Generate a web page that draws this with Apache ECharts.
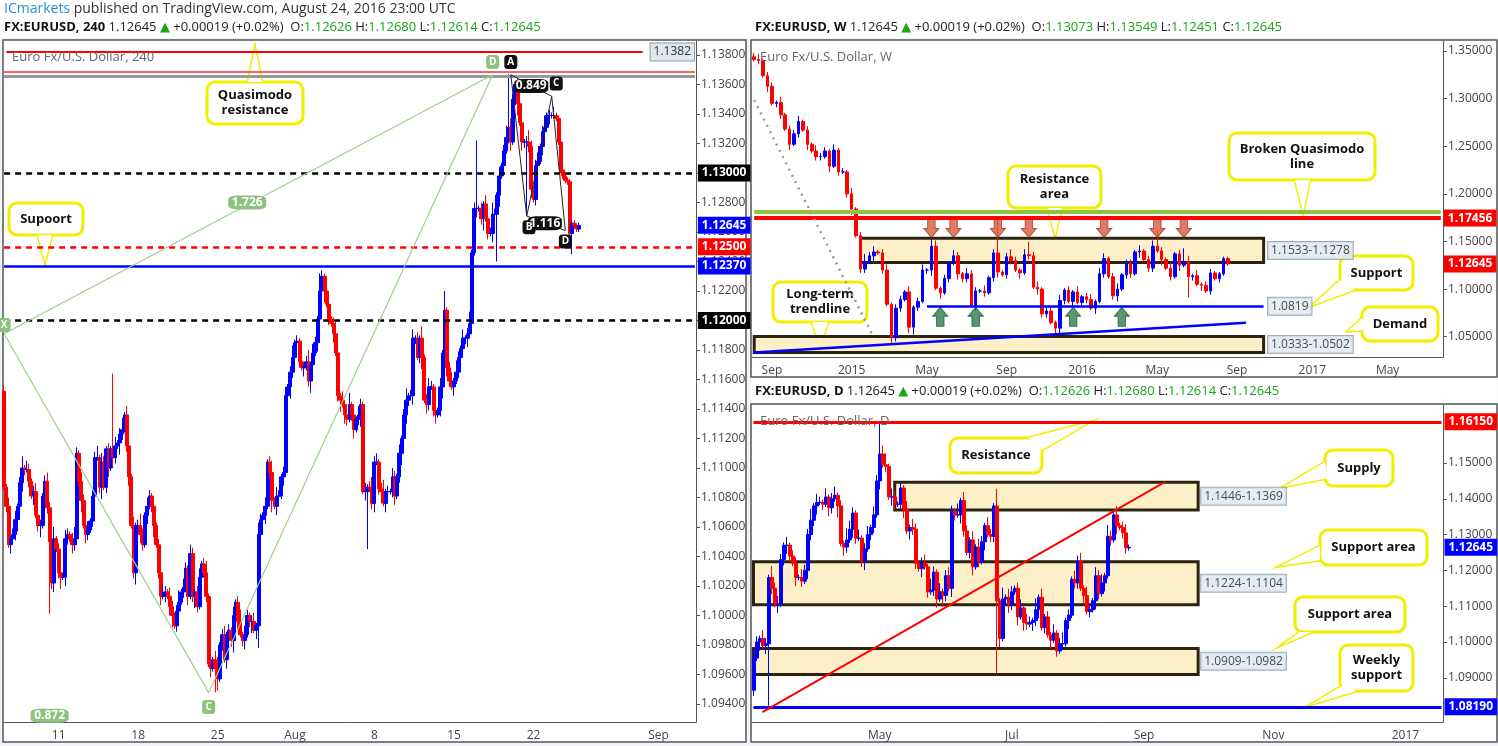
<!DOCTYPE html>
<html>
<head>
<meta charset="utf-8">
<script src="https://cdn.jsdelivr.net/npm/echarts@6/dist/echarts.min.js"></script>
<style>
  html, body { margin: 0; padding: 0; background: #f1f3f6; }
  #chart { width: 1498px; height: 746px; }
</style>
</head>
<body>
<div id="chart"></div>
<script>
// ---------- 4H data (pips above 1.1000) ----------
const h4Open0 = 152;
const h4Close = [87,74,48,52,55,65,74,90,100,99,99,91,81,84,68,61,61,81,91,73,50,22,52,45,29,26,26,52,55,52,
  48,52,110,91,78,61,55,58,64,81,107,107,87,104,87,113,100,113,107,115,117,123,126,136,115,94,61,29,61,61,
  55,48,68,74,81,74,61,48,29,13,13,16,13,6,0,-7,3,9,16,19,32,13,42,13,16,6,26,35,29,13,
  -33,-36,-30,-36,-43,-20,-13,-30,-13,-10,-17,0,9,-4,-13,-17,-13,0,-4,-4,-10,-7,55,65,68,74,104,97,78,74,
  81,81,94,97,149,155,165,175,185,186,172,168,168,172,159,170,178,185,201,220,230,220,211,201,198,191,178,149,146,143,
  136,133,143,136,126,133,136,143,84,84,87,86,76,104,104,86,84,76,84,84,84,94,81,94,110,120,136,146,149,149,
  188,188,175,188,175,146,143,155,155,139,136,139,155,178,207,168,159,155,159,165,175,181,188,188,191,198,246,276,276,276,
  269,279,269,259,259,272,272,285,298,305,315,324,331,321,350,360,347,334,321,321,321,318,289,282,305,308,318,328,331,339,
  339,339,339,337,321,302,298,295,294,259,266,264,262,264.5];
const h4WickUp = '2131231241321231212321412313212421321312241321212312413213124213213121421321241321321231241213412312131241321231421312413212312412131241321321431242131241213213124231241213213124123121412321413121231421312412312131242131241321213124212312412131';
const h4WickDn = '1213124132121312413212312413213212413212312412313214212312413213124123121341231213124213121312412131241312312413212312413213124213213124213124121312413212312413212312413212312413213212413212312413213124123121312412131241312312413212312413213';
const h4SpikeHigh = [[48, 164], [139, 232], [194, 220], [208, 322], [222, 367]];
const h4SpikeLow = [[20, 1], [93, -52], [112, -22], [160, 45], [217, 240], [230, 271], [250, 245]];
const h4Ticks = [[24, '11'], [59, '18'], [94, '25'], [128, 'Aug'], [163, '8'], [198, '15'], [233, '22'], [288, 'Sep']];
const h4Count = 305;
const h4PriceTicks = [1.094,1.096,1.098,1.100,1.102,1.104,1.106,1.108,1.110,1.112,1.114,1.116,1.118,1.120,1.122,1.124,1.126,1.128,1.130,1.132,1.134,1.136,1.138];

// ---------- Weekly data ----------
const wStart = '2014-08-04';
const wOpen0 = 1.3440;
const wClose = [1.3410,1.3400,1.3240,1.3130,
  1.2950,1.2960,1.2830,1.2680,1.2520, 1.2630,1.2760,1.2670,1.2520, 1.2450,1.2390,1.2390,1.2450,
  1.2290,1.2460,1.2230,1.2230,1.2000, 1.1840,1.1560,1.1210,1.1290, 1.1350,1.1390,1.1380,1.1200,
  1.0840,1.0490,1.0800,1.0890,1.0970, 1.0600,1.0810,1.0870,1.1200, 1.1200,1.1450,1.1010,1.0960,
  1.1110,1.1270,1.1350,1.1160,1.1110, 1.1160,1.0830,1.0980,1.0980, 1.0960,1.1120,1.1380,1.1180,1.1150,
  1.1340,1.1300,1.1200,1.1170, 1.1360,1.1350,1.1020,1.1000, 1.0740,1.0770,1.0650,1.0590,1.0880,
  1.0990,1.0870,1.0970,1.0860, 1.0920,1.0890,1.0800,1.0870, 1.1160,1.1320,1.1130,1.0930,1.1000,
  1.1150,1.1270,1.1160,1.1390, 1.1400,1.1310,1.1220,1.1450, 1.1400,1.1310,1.1220,1.1130,1.1370,
  1.1250,1.1290,1.1130,1.1140, 1.1050,1.1040,1.0980,1.1170, 1.1110,1.1160,1.1320,1.12645];
const wWickUp = '2312213122312132213121312423123122131231431213213221312312421312312213121312313212312213123121312231312211';
const wWickDn = '1213122131213122131212312213121322131212313121322131212312213121322131213122131212312213122131213122131212';
const wSpikeHigh = [[40, 1.1466], [55, 1.1714], [62, 1.1495], [79, 1.1376], [91, 1.1616], [97, 1.1428]];
const wSpikeLow = [[31, 1.0462], [69, 1.0524], [36, 1.0521], [98, 1.0912]];
const wCount = 156;
const wPriceTicks = [1.05, 1.10, 1.15, 1.20, 1.25, 1.30, 1.35];
const wResArrows = [[40, 1.1643], [45, 1.1643], [55, 1.1643], [62, 1.1643], [79, 1.1643], [91, 1.1643], [97, 1.1643]];
const wSupArrows = [[42, 1.0709], [50, 1.0709], [72, 1.0709], [83, 1.0709]];

// ---------- Daily data ----------
const dStart = '2016-03-03';
const dOpen0 = 1.0865;
const dClose = [1.0955,1.1000,1.1010,1.0990,1.0995,1.1180,1.1150,1.1105,1.1105,1.1230,1.1270,1.1270,1.1240,1.1220,1.1180,1.1180,1.1170,1.1200,1.1300,1.1340,1.1380,
  1.1390,1.1390,1.1385,1.1405,1.1375,1.1400,1.1410,1.1380,1.1275,1.1265,1.1285,1.1315,1.1360,1.1290,1.1290,1.1225,1.1260,1.1300,1.1320,1.1355,1.1450,
  1.1525,1.1495,1.1490,1.1405,1.1405,1.1385,1.1385,1.1430,1.1370,1.1310,1.1320,1.1315,1.1220,1.1205,1.1220,1.1210,1.1140,1.1145,1.1195,1.1120,1.1140,1.1130,
  1.1185,1.1150,1.1365,1.1355,1.1355,1.1395,1.1310,1.1250,1.1285,1.1210,1.1265,1.1225,1.1280,1.1325,1.1300,1.1295,1.1380,1.1115,1.1010,1.1120,1.1125,1.1105,
  1.1140,1.1150,1.1070,1.1095,1.1055,1.1050,1.1055,1.1060,1.1090,1.1125,1.1040,1.1070,1.1020,1.1005,1.1025,1.0975,1.0995,1.0995,1.1060,1.1075,1.1175,
  1.1165,1.1225,1.1150,1.1130,1.1085,1.1090,1.1115,1.1185,1.1135,1.1165,1.1185,1.1295,1.1285,1.1355,1.1325,1.1320,1.1305,1.1263,1.12645];
const dWickUp = '3213214232131221322413213123121432131231321341321213132123142131232141321313213213141321231321413121312412132313213231421312313122';
const dWickDn = '2131322131232131213223121321413213212312213121321231322131212314213213212312131221312321313213231213121213122131213213121312212131';
const dSpikeHigh = [[42, 1.1616], [81, 1.1428]];
const dSpikeLow = [[5, 1.0822], [81, 1.0912]];
const dCount = 230;
const dPriceTicks = [1.09, 1.10, 1.11, 1.12, 1.13, 1.14, 1.15];

// ---------- helpers ----------
function buildCandles(closes, open0, wu, wd, unit, hiSpikes, loSpikes, conv) {
  const out = [];
  let prev = open0;
  closes.forEach((c, i) => {
    const o = prev;
    let h = Math.max(o, c) + Number(wu[i] || 1) * unit;
    let l = Math.min(o, c) - Number(wd[i] || 1) * unit;
    hiSpikes.forEach(s => { if (s[0] === i) h = Math.max(h, s[1]); });
    loSpikes.forEach(s => { if (s[0] === i) l = Math.min(l, s[1]); });
    out.push([conv(o), conv(c), conv(l), conv(h)]);
    prev = c;
  });
  return out;
}
const pip = p => +(1.1 + p / 10000).toFixed(5);
const same = v => v;

const h4Data = buildCandles(h4Close, h4Open0, h4WickUp, h4WickDn, 2, h4SpikeHigh, h4SpikeLow, pip);
const wData = buildCandles(wClose, wOpen0, wWickUp, wWickDn, 0.0020, wSpikeHigh, wSpikeLow, same);
const dData = buildCandles(dClose, dOpen0, dWickUp, dWickDn, 0.0008, dSpikeHigh, dSpikeLow, same);

const h4Cats = Array.from({ length: h4Count }, (_, i) => String(i));
const h4TickMap = {};
h4Ticks.forEach(t => { h4TickMap[t[0]] = t[1]; });

function weekDates(start, n) {
  const d = new Date(start + 'T00:00:00Z'), out = [];
  for (let i = 0; i < n; i++) { out.push(d.toISOString().slice(0, 10)); d.setUTCDate(d.getUTCDate() + 7); }
  return out;
}
function tradingDates(start, n) {
  const d = new Date(start + 'T00:00:00Z'), out = [];
  while (out.length < n) {
    const wd = d.getUTCDay();
    if (wd !== 0 && wd !== 6) out.push(d.toISOString().slice(0, 10));
    d.setUTCDate(d.getUTCDate() + 1);
  }
  return out;
}
const wCats = weekDates(wStart, wCount);
const dCats = tradingDates(dStart, dCount);
const MON = ['Jan','Feb','Mar','Apr','May','Jun','Jul','Aug','Sep','Oct','Nov','Dec'];

function firstOfMonth(cats, i) {
  return i === 0 ? false : cats[i].slice(5, 7) !== cats[i - 1].slice(5, 7);
}
const wShow = i => firstOfMonth(wCats, i) && [0, 4, 8].includes(+wCats[i].slice(5, 7) - 1);
const dShow = i => firstOfMonth(dCats, i) && [0, 4, 6, 8, 10].includes(+dCats[i].slice(5, 7) - 1);
const dateFmt = v => { const m = +v.slice(5, 7) - 1; return m === 0 ? v.slice(0, 4) : MON[m]; };

const FONT = '"Open Sans", "DejaVu Sans", sans-serif';
const axisTxt = { color: '#444', fontSize: 12, fontFamily: FONT };

// horizontal level across the whole panel, drawn as a segment between the first and last category
function hline(last, value, color, type, width, tag, tagBg) {
  return [
    { coord: [0, value], lineStyle: { color: width ? color : 'rgba(0,0,0,0)', type: type, width: width || 1 },
      label: tag ? {
        show: true, position: 'end', distance: 3, formatter: tag,
        backgroundColor: tagBg, color: '#fff', padding: [3, 4, 2, 4],
        fontSize: 12, fontWeight: 'bold', fontFamily: FONT
      } : { show: false } },
    { coord: [last, value] }
  ];
}
function seg(a, b, color, width, type) {
  return [
    { coord: a, lineStyle: { color: color, width: width, type: type || 'solid' }, label: { show: false } },
    { coord: b }
  ];
}
function tagPoint(coord, text, bg, w) {
  return { coord: coord, value: text, symbol: 'roundRect', symbolSize: [w || 13, 14],
    itemStyle: { color: bg },
    label: { show: true, formatter: text, color: '#fff', fontSize: w ? 12 : 10, fontWeight: 'bold', fontFamily: FONT } };
}
const zoneStyle = { color: 'rgba(253,236,190,0.85)', borderColor: '#2a2410', borderWidth: 3 };
function zone(x0, x1, y0, y1) { return [{ coord: [x0, y0], itemStyle: zoneStyle }, { coord: [x1, y1] }]; }
const candleStyle = { color: '#0000ff', color0: '#ff0000', borderColor: '#0000ff', borderColor0: '#ff0000', borderWidth: 1 };
const boxLabel = { show: true, position: 'right', distance: 0, color: '#222', fontSize: 12, fontFamily: FONT,
  backgroundColor: '#dfe8ef', borderColor: '#8a9aa6', borderWidth: 1, padding: [3, 3, 2, 3], formatter: p => p.data[2] };

// ---------- callouts (annotations in pixels) ----------
const YEL = '#f2ee00';
function callout(x, y, w, h, text, tip, b1, b2) {
  return { type: 'group', z: 100, children: [
    { type: 'polyline', shape: { points: [b1, tip, b2] }, style: { stroke: YEL, lineWidth: 3, fill: null } },
    { type: 'rect', shape: { x: x, y: y, width: w, height: h, r: 8 }, style: { fill: '#fff', stroke: YEL, lineWidth: 3 } },
    { type: 'polygon', shape: { points: [b1, tip, b2] }, style: { fill: '#fff' } },
    { type: 'text', x: x + w / 2, y: y + h / 2, style: { text: text, fill: '#111', font: 'bold 13px ' + FONT,
      align: 'center', verticalAlign: 'middle', lineHeight: 15 } }
  ] };
}
const hdrRich = {
  b: { fontWeight: 'bold', fontSize: 13, fill: '#111', fontFamily: FONT },
  n: { fontSize: 13, fill: '#222', fontFamily: FONT },
  g: { fontSize: 13, fill: '#1aa51a', fontFamily: FONT }
};
function header(x, y, tf, o, h, l, c) {
  return { type: 'text', x: x, y: y, z: 100, style: {
    text: `{b|FX:EURUSD, ${tf}} {n|1.12645} {g|▲} {n|+0.00019 (+0.02%)  O:}{g|${o}} {n|H:}{g|${h}} {n|L:}{g|${l}} {n|C:}{g|${c}}`,
    rich: hdrRich, verticalAlign: 'middle' } };
}
function title(x, y, t) {
  return { type: 'text', x: x, y: y, z: 100, style: { text: t, fill: '#666', font: '13px ' + FONT, verticalAlign: 'middle' } };
}
function panel(x, y, w, h) {
  return { type: 'rect', z: -10, shape: { x: x, y: y, width: w, height: h }, style: { fill: '#fff', stroke: '#555', lineWidth: 1.5 } };
}

const H4L = h4Count - 1, WL = wCount - 1, DL = dCount - 1;
const GREEN = '#9fcf8f';

const chart = echarts.init(document.getElementById('chart'));
chart.setOption({
  backgroundColor: '#f1f3f6',
  animation: false,
  graphic: [
    { type: 'rect', z: -20, shape: { x: 0, y: 0, width: 1498, height: 38 }, style: { fill: '#fff' } },
    panel(3, 40, 743, 702), panel(751, 40, 746, 337), panel(751, 404, 746, 338),
    { type: 'rect', z: -15, shape: { x: 751, y: 378, width: 746, height: 25 }, style: { fill: '#fff' } },
    { type: 'text', x: 4, y: 9, z: 100, style: { text: '{a|ICmarkets}{n| published on TradingView.com, August 24, 2016 23:00 UTC}',
      rich: { a: { fill: '#2a8fd0', fontSize: 14, fontFamily: FONT }, n: { fill: '#333', fontSize: 14, fontFamily: FONT } }, verticalAlign: 'middle' } },
    header(4, 27, '240', '1.12626', '1.12680', '1.12614', '1.12645'),
    header(755, 27, 'W', '1.13073', '1.13549', '1.12451', '1.12645'),
    header(755, 391, 'D', '1.12626', '1.12680', '1.12614', '1.12645'),
    title(12, 57, 'Euro Fx/U.S. Dollar, 240'),
    title(760, 57, 'Euro Fx/U.S. Dollar, W'),
    title(760, 421, 'Euro Fx/U.S. Dollar, D'),
    callout(207, 82, 96, 42, 'Quasimodo\nresistance', [255, 48], [248, 82], [262, 82]),
    callout(9, 203, 74, 32, 'Supoort', [45, 262], [38, 235], [52, 235]),
    callout(1008, 166, 93, 42, 'Resistance\narea', [1055, 236], [1048, 208], [1062, 208]),
    callout(1229, 133, 146, 47, 'Broken Quasimodo\nline', [1303, 212], [1295, 180], [1310, 180]),
    callout(1340, 256, 73, 34, 'Support', [1313, 305], [1340, 280], [1354, 290]),
    callout(1362, 307, 76, 34, 'Demand', [1348, 331], [1362, 318], [1368, 330]),
    callout(773, 282, 94, 40, 'Long-term\ntrendline', [820, 348], [812, 322], [828, 322]),
    callout(950, 438, 92, 35, 'Resistance', [1090, 422], [1028, 438], [1042, 450]),
    callout(1325, 450, 68, 36, 'Supply', [1283, 487], [1325, 462], [1328, 478]),
    callout(1320, 530, 107, 35, 'Support area', [1280, 566], [1320, 546], [1320, 560]),
    callout(1295, 597, 110, 35, 'Support area', [1282, 645], [1300, 632], [1312, 632]),
    callout(1340, 645, 73, 46, 'Weekly\nsupport', [1310, 705], [1345, 684], [1356, 691])
  ],
  grid: [
    { left: 3, top: 41, width: 693, height: 681 },
    { left: 752, top: 41, width: 691, height: 316 },
    { left: 752, top: 405, width: 691, height: 317 }
  ],
  xAxis: [
    { gridIndex: 0, type: 'category', data: h4Cats,
      axisLine: { lineStyle: { color: '#555' } },
      axisTick: { interval: i => i in h4TickMap, lineStyle: { color: '#555' } },
      axisLabel: Object.assign({ interval: i => i in h4TickMap, formatter: (v, i) => h4TickMap[i] || '' }, axisTxt) },
    { gridIndex: 1, type: 'category', data: wCats,
      axisLine: { lineStyle: { color: '#555' } },
      axisTick: { interval: wShow, lineStyle: { color: '#555' } },
      axisLabel: Object.assign({ interval: wShow, formatter: dateFmt }, axisTxt) },
    { gridIndex: 2, type: 'category', data: dCats,
      axisLine: { lineStyle: { color: '#555' } },
      axisTick: { interval: dShow, lineStyle: { color: '#555' } },
      axisLabel: Object.assign({ interval: dShow, formatter: dateFmt }, axisTxt) }
  ],
  yAxis: [
    { gridIndex: 0, type: 'value', position: 'right', min: 1.09278, max: 1.13895, splitLine: { show: false },
      axisLine: { show: true, lineStyle: { color: '#555' } },
      axisTick: { show: true, customValues: h4PriceTicks, length: 4 },
      axisLabel: Object.assign({ customValues: h4PriceTicks, formatter: v => v.toFixed(5), margin: 5 }, axisTxt) },
    { gridIndex: 1, type: 'value', position: 'right', min: 1.0287, max: 1.3605, splitLine: { show: false },
      axisLine: { show: true, lineStyle: { color: '#555' } },
      axisTick: { show: true, customValues: wPriceTicks, length: 4 },
      axisLabel: Object.assign({ customValues: wPriceTicks, formatter: v => v.toFixed(5), margin: 5 }, axisTxt) },
    { gridIndex: 2, type: 'value', position: 'right', min: 1.07765, max: 1.1662, splitLine: { show: false },
      axisLine: { show: true, lineStyle: { color: '#555' } },
      axisTick: { show: true, customValues: dPriceTicks, length: 4 },
      axisLabel: Object.assign({ customValues: dPriceTicks, formatter: v => v.toFixed(5), margin: 5 }, axisTxt) }
  ],
  series: [
    { type: 'candlestick', xAxisIndex: 0, yAxisIndex: 0, data: h4Data, barWidth: 3.5, itemStyle: candleStyle,
      markLine: { symbol: 'none', silent: true, animation: false, data: [
        hline(H4L, 1.13685, '#ee3333', 'solid', 1.5),
        hline(H4L, 1.13655, '#999', 'solid', 3),
        hline(H4L, 1.1300, '#000', [6, 5], 2.5, '1.13000', '#000'),
        hline(H4L, 1.1250, '#ff0000', [6, 5], 2.5, '1.12500', '#ff0000'),
        hline(H4L, 1.1237, '#0000ff', 'solid', 2.5, '1.12370', '#0000ff'),
        hline(H4L, 1.1200, '#000', [6, 5], 2.5, '1.12000', '#000'),
        hline(H4L, 1.12645, '#0000ff', 'solid', 0, '1.12645', '#0000ff'),
        [{ coord: [1, 1.1382], lineStyle: { color: '#ff0000', width: 2, type: 'solid' },
           label: { show: true, position: 'end', distance: 8, formatter: '1.1382', color: '#333', fontSize: 12, fontFamily: FONT,
             backgroundColor: '#dfe8ef', borderColor: '#8a9aa6', borderWidth: 1, padding: [3, 3, 2, 3] } },
         { coord: [281, 1.1382] }],
        seg([0, 1.1191], [215, 1.13666], GREEN, 1.2),
        seg([0, 1.1191], [90, 1.09477], GREEN, 1.2),
        seg([90, 1.09477], [215, 1.13666], GREEN, 1.2),
        seg([11, 1.09270], [90, 1.09477], GREEN, 1.2),
        seg([79, 1.13920], [215, 1.13666], GREEN, 1.2),
        seg([222.6, 1.13666], [230, 1.12708], '#222', 1),
        seg([230, 1.12708], [241.4, 1.1352], '#222', 1),
        seg([241.4, 1.1352], [246.6, 1.1261], '#222', 1),
        seg([222.6, 1.13666], [241.4, 1.1352], '#222', 1),
        seg([230, 1.12708], [246.6, 1.1261], '#222', 1)
      ] },
      markPoint: { silent: true, animation: false, data: [
        tagPoint([215, 1.13753], 'D', '#8cc27c'),
        tagPoint([223, 1.13753], 'A', '#111'),
        tagPoint([242.5, 1.13607], 'C', '#111'),
        tagPoint([231, 1.12633], 'B', '#111'),
        tagPoint([247, 1.12536], 'D', '#111'),
        tagPoint([90, 1.0938], 'C', '#8cc27c'),
        tagPoint([0, 1.1197], 'X', '#8cc27c'),
        tagPoint([20, 1.0932], '0.872', '#8cc27c', 38),
        tagPoint([107, 1.1280], '1.726', '#8cc27c', 38),
        tagPoint([232, 1.1359], '0.849', '#111', 34),
        tagPoint([238, 1.1266], '1.116', '#111', 34)
      ] } },

    { type: 'candlestick', xAxisIndex: 1, yAxisIndex: 1, data: wData, barWidth: 3, itemStyle: candleStyle,
      markArea: { silent: true, data: [zone(24, 115, 1.1278, 1.1533), zone(0, 115, 1.0333, 1.0502)] },
      markLine: { symbol: 'none', silent: true, animation: false, data: [
        hline(WL, 1.1816, '#8cc63f', 'solid', 4),
        hline(WL, 1.17456, '#ff0000', 'solid', 4, '1.17456', '#ff0000'),
        hline(WL, 1.12645, '#ff0000', 'solid', 0, '1.12645', '#ff0000'),
        seg([39, 1.0819], [115, 1.0819], '#0000ff', 2.5),
        seg([0, 1.0333], [111, 1.0646], '#0000ff', 2.5),
        seg([0, 1.2986], [27, 1.0490], '#999', 2.5, [2, 5])
      ] } },
    { type: 'scatter', xAxisIndex: 1, yAxisIndex: 1, data: wResArrows, silent: true,
      symbol: 'path://M3,0 L9,0 L9,8 L12,8 L6,15 L0,8 L3,8 Z', symbolSize: [15, 19],
      itemStyle: { color: '#d9573c', borderColor: '#a33a22', borderWidth: 1 } },
    { type: 'scatter', xAxisIndex: 1, yAxisIndex: 1, data: wSupArrows, silent: true,
      symbol: 'path://M6,0 L12,7 L9,7 L9,15 L3,15 L3,7 L0,7 Z', symbolSize: [15, 19],
      itemStyle: { color: '#2e7d4f', borderColor: '#1d5a36', borderWidth: 1 } },
    { type: 'scatter', xAxisIndex: 1, yAxisIndex: 1, silent: true, symbolSize: 0, label: boxLabel,
      data: [[116, 1.1405, '1.1533-1.1278'], [116, 1.0819, '1.0819'], [116, 1.0418, '1.0333-1.0502']] },

    { type: 'candlestick', xAxisIndex: 2, yAxisIndex: 2, data: dData, barWidth: 3.5, itemStyle: candleStyle,
      markArea: { silent: true, data: [zone(47, 148, 1.1369, 1.1446), zone(0, 148, 1.1104, 1.1224), zone(0, 148, 1.0909, 1.0982)] },
      markLine: { symbol: 'none', silent: true, animation: false, data: [
        hline(DL, 1.1615, '#ff0000', 'solid', 3, '1.16150', '#ff0000'),
        hline(DL, 1.0819, '#0000ff', 'solid', 3, '1.08190', '#0000ff'),
        hline(DL, 1.12645, '#0000ff', 'solid', 0, '1.12645', '#0000ff'),
        seg([3, 1.0804], [137, 1.1447], '#ff0000', 2)
      ] } },
    { type: 'scatter', xAxisIndex: 2, yAxisIndex: 2, silent: true, symbolSize: 0, label: boxLabel,
      data: [[149, 1.1407, '1.1446-1.1369'], [149, 1.1164, '1.1224-1.1104'], [149, 1.0946, '1.0909-1.0982']] }
  ]
});
</script>
</body>
</html>
